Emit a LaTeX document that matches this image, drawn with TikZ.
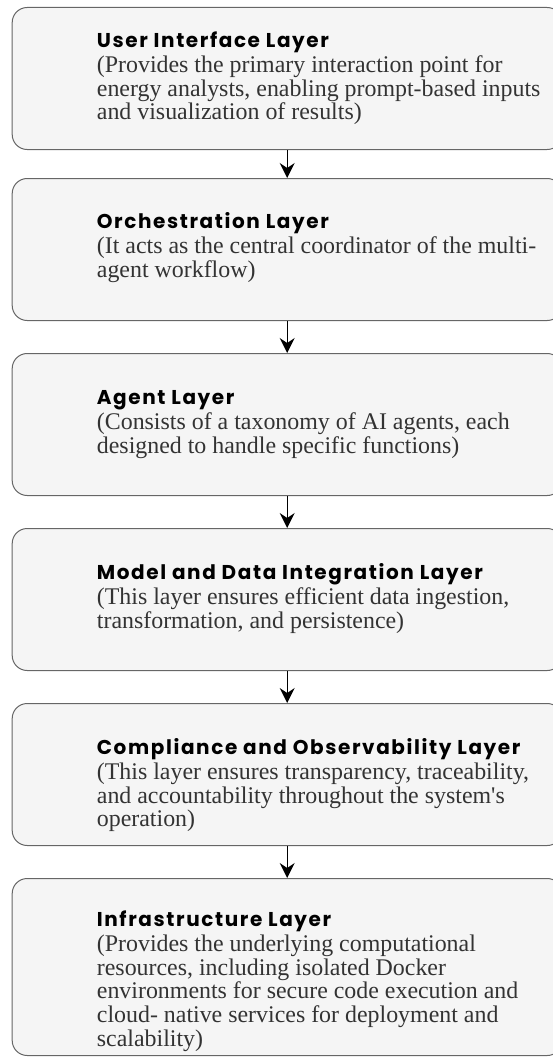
\documentclass[tikz,border=0pt]{standalone}
\usepackage{fontspec}
\setmainfont{Liberation Serif}
\newfontfamily\bodyfont{Liberation Serif}[Ligatures={Common,TeXOff}]
\newfontfamily\headfont{Poppins}[LetterSpace=8]
\usetikzlibrary{arrows.meta,positioning}
\definecolor{boxfill}{HTML}{F5F5F5}
\definecolor{boxline}{HTML}{666666}
\definecolor{bodytext}{HTML}{333333}
% heading line of a layer label; the strut fixes the height above its baseline
\newcommand{\layertitle}[1]{{\headfont\bfseries\fontsize{20}{23.8}\selectfont\color{black}\rule{0pt}{20pt}#1}\\[1.2pt]}
\tikzset{
  layerbox/.style={draw=boxline, fill=boxfill, line width=1pt, rounded corners=15pt,
    rectangle, minimum width=550pt, inner sep=0pt, anchor=north west},
  layertext/.style={anchor=north west, align=left, inner sep=0pt, text=bodytext,
    font=\bodyfont\fontsize{23.9}{23.8}\selectfont},
  flow/.style={draw=black, line width=1.3pt,
    -{Stealth[length=15pt, width=15pt, inset=5pt]}}
}
\begin{document}
\begin{tikzpicture}[x=1pt,y=-1pt]
\useasboundingbox (0,0) rectangle (553,1057);

% layer boxes, top to bottom
\node[layerbox, minimum height=142pt] (b1) at (11.7,7) {};
\node[layerbox, minimum height=142pt] (b2) at (11.7,178) {};
\node[layerbox, minimum height=142pt] (b3) at (11.7,353) {};
\node[layerbox, minimum height=142pt] (b4) at (11.7,528) {};
\node[layerbox, minimum height=142pt] (b5) at (11.7,703) {};
\node[layerbox, minimum height=177pt] (b6) at (11.7,878) {};

% labels: heading baseline sits 20pt below the node's top edge
\node[layertext] (t1) at (96.7,27)
  {\layertitle{User Interface Layer}(Provides the primary interaction point for\\
   energy analysts, enabling prompt-based inputs\\
   and visualization of results)};
\node[layertext] (t2) at (96.7,208)
  {\layertitle{Orchestration Layer}(It acts as the central coordinator of the multi-\\
   agent workflow)};
\node[layertext] (t3) at (96.7,384)
  {\layertitle{Agent Layer}(Consists of a taxonomy of AI agents, each\\
   designed to handle specific functions)};
\node[layertext] (t4) at (96.7,559)
  {\layertitle{Model and Data Integration Layer}(This layer ensures efficient data ingestion,\\
   transformation, and persistence)};
\node[layertext] (t5) at (96.7,734)
  {\layertitle{Compliance and Observability Layer}(This layer ensures transparency, traceability,\\
   and accountability throughout the system's\\
   operation)};
\node[layertext] (t6) at (96.7,906)
  {\layertitle{Infrastructure Layer}(Provides the underlying computational\\
   resources, including isolated Docker\\
   environments for secure code execution and\\
   cloud- native services for deployment and\\
   scalability)};

% connectors between consecutive layers
\draw[flow] (b1.south) -- (b2.north);
\draw[flow] (b2.south) -- (b3.north);
\draw[flow] (b3.south) -- (b4.north);
\draw[flow] (b4.south) -- (b5.north);
\draw[flow] (b5.south) -- (b6.north);
\end{tikzpicture}
\end{document}
